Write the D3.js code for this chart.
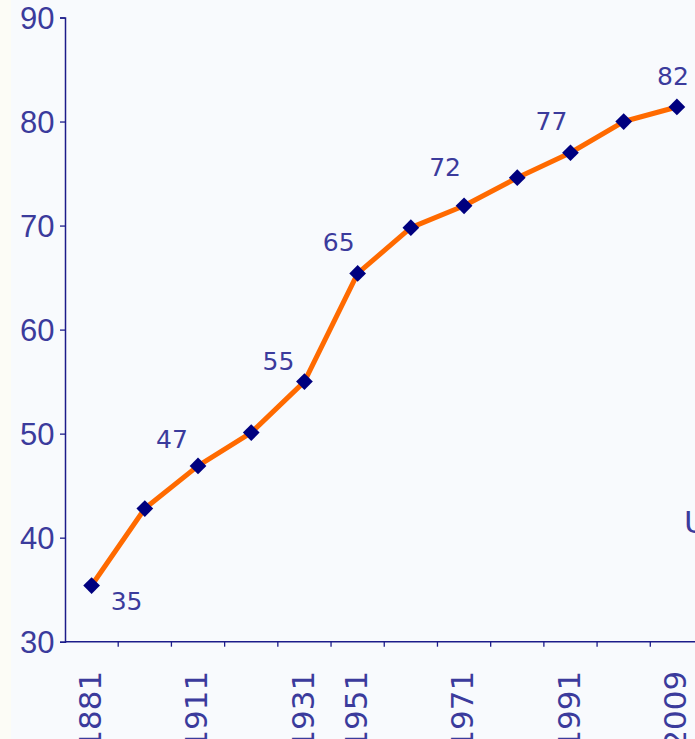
<!DOCTYPE html>
<html>
<head>
<meta charset="utf-8">
<script src="https://cdn.jsdelivr.net/npm/d3@7"></script>
<style>
  html, body { margin: 0; padding: 0; background: #f8fafd; overflow: hidden; }
  svg { display: block; font-family: "DejaVu Sans", Verdana, sans-serif; }
</style>
</head>
<body>
<div id="chart"></div>
<script>
////////////////////////////////////////////////////////////////////////
//
// chart data -- one value per census year
//
////////////////////////////////////////////////////////////////////////
var years      = ["1881", "1891", "1911", "1921", "1931", "1951", "1961", "1971", "1981", "1991", "2001", "2009"];
var values     = [35.4, 42.8, 46.9, 50.1, 55.0, 65.4, 69.8, 71.9, 74.6, 77.0, 80.0, 81.4];
var shownYears = ["1881", "1911", "1931", "1951", "1971", "1991", "2009"];
var labelYears = ["1881", "1911", "1931", "1951", "1971", "1991", "2009"];
var labelTexts = ["35", "47", "55", "65", "72", "77", "82"];
var yTicks     = [30, 40, 50, 60, 70, 80, 90];

//label offsets from the point, [dx, dy] in px
var labelOffsets = [[35, 24], [-26, -18], [-26, -12], [-19, -22], [-19, -30], [-19, -23], [-4, -22]];


function init()
    {
    var width = 695, height = 739;
    var textColor = "#3b3b9c";
    var axisColor = "#1c1c8a";

    var svg = d3.select("#chart")
        .append("svg")
        .attr("width", width)
        .attr("height", height);

    svg.append("rect").attr("width", width).attr("height", height).attr("fill", "#f8fafd");
    svg.append("rect").attr("width", 11).attr("height", height).attr("fill", "#fcfcf6");

    //Scales -- last band runs off the right edge of the picture
    var x = d3.scaleBand().domain(years).range([65, 703.5]);
    var y = d3.scaleLinear().domain([30, 90]).range([641.7, 17.5]);

    //Y axis
    var yAxis = svg.append("g")
        .attr("transform", "translate(65,0)")
        .call(d3.axisLeft(y).tickValues(yTicks).tickSize(5).tickPadding(5.5));
    yAxis.select(".domain").attr("stroke", axisColor).attr("stroke-width", 1.5);
    yAxis.selectAll(".tick line").attr("stroke", axisColor).attr("stroke-width", 1.3);
    yAxis.selectAll(".tick text")
        .attr("fill", textColor)
        .style("font-size", "31px")
        .attr("dy", "0.36em");

    //X axis -- ticks on the band edges, labels at the band centres
    var xAxis = svg.append("g").attr("transform", "translate(0," + y(30) + ")");
    xAxis.append("line")
        .attr("x1", 65).attr("x2", width)
        .attr("stroke", axisColor).attr("stroke-width", 1.5);
    xAxis.selectAll(".edge")
        .data(years)
        .enter()
        .append("line")
        .attr("x1", d => x(d) + x.bandwidth())
        .attr("x2", d => x(d) + x.bandwidth())
        .attr("y1", 0).attr("y2", 5)
        .attr("stroke", axisColor).attr("stroke-width", 1.3);
    xAxis.selectAll(".yr")
        .data(shownYears)
        .enter()
        .append("text")
        .attr("transform", d => "translate(" + (x(d) + x.bandwidth() / 2) + ",0) rotate(-90)")
        .attr("x", -29)
        .attr("dy", "0.3em")
        .attr("text-anchor", "end")
        .attr("fill", textColor)
        .style("font-size", "31px")
        .text(d => d);

    //Line
    var cx = d => x(d) + x.bandwidth() / 2;
    var line = d3.line()
        .x((d, i) => cx(years[i]))
        .y(d => y(d));

    svg.append("path")
        .datum(values)
        .attr("d", line)
        .attr("fill", "none")
        .attr("stroke", "#ff6a00")
        .attr("stroke-width", 5)
        .attr("stroke-linejoin", "round");

    //Diamond markers
    svg.selectAll(".pt")
        .data(values)
        .enter()
        .append("path")
        .attr("d", d3.symbol().type(d3.symbolSquare).size(140))
        .attr("transform", (d, i) => "translate(" + cx(years[i]) + "," + y(d) + ") rotate(45)")
        .attr("fill", "#00007f");

    //Value labels
    svg.selectAll(".lbl")
        .data(labelTexts)
        .enter()
        .append("text")
        .attr("x", (d, i) => cx(labelYears[i]) + labelOffsets[i][0])
        .attr("y", (d, i) => y(values[years.indexOf(labelYears[i])]) + labelOffsets[i][1])
        .attr("text-anchor", "middle")
        .attr("fill", textColor)
        .style("font-size", "25px")
        .text(d => d);

    //Legend text, cut off at the right edge
    svg.append("text")
        .attr("x", 684)
        .attr("y", 533)
        .attr("fill", textColor)
        .style("font-size", "31px")
        .text("UK");
    }

init();
</script>
</body>
</html>
